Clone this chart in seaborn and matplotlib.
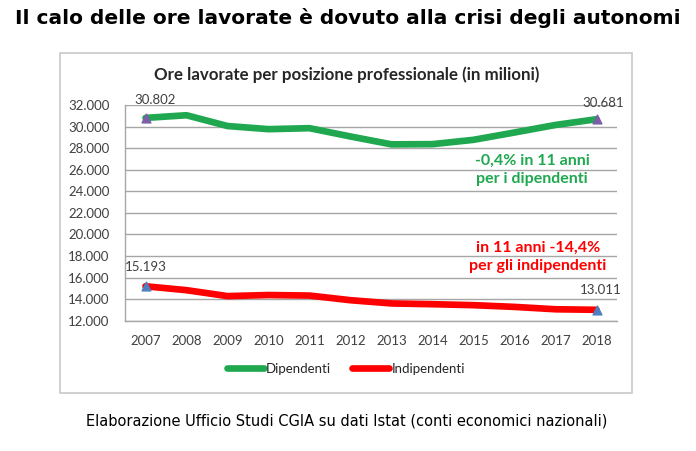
import pandas as pd
import numpy as np
import matplotlib
matplotlib.use("Agg")
import matplotlib.pyplot as plt
import seaborn as sns
from matplotlib.patches import Rectangle
from matplotlib.ticker import FuncFormatter, FixedLocator

# ===============================
# DATA (millions of hours worked)
# ===============================
years = ["2007", "2008", "2009", "2010", "2011", "2012",
         "2013", "2014", "2015", "2016", "2017", "2018"]
dipendenti = [30802, 31050, 30050, 29760, 29850, 29080,
              28350, 28370, 28770, 29450, 30150, 30681]
indipendenti = [15193, 14830, 14280, 14380, 14330, 13900,
                13600, 13530, 13440, 13280, 13060, 13011]
series_names = ["Dipendenti", "Indipendenti"]
y_ticks = [12000, 14000, 16000, 18000, 20000, 22000,
           24000, 26000, 28000, 30000, 32000]

df = pd.DataFrame({
    "anno": years * 2,
    "ore": dipendenti + indipendenti,
    "posizione": [series_names[0]] * len(years) + [series_names[1]] * len(years),
})

GREEN = "#1fa84f"
RED = "#ff0000"
GRID = "#a6a6a6"
TXT = "#404040"


def it_num(v):
    return f"{int(v):,}".replace(",", ".")


sns.set_style("white")
plt.rcParams["font.family"] = ["Lato", "DejaVu Sans"]

fig = plt.figure(figsize=(6.96, 4.51), dpi=100)
ax = fig.add_axes([125 / 696, 1 - 320.7 / 451, 492 / 696, (320.7 - 105) / 451])

# inner chart frame
fig.patches.append(Rectangle((60 / 696, 1 - 393 / 451), 572 / 696, 340 / 451,
                             transform=fig.transFigure, fill=False,
                             edgecolor="#c8c8c8", linewidth=1.2))

sns.lineplot(data=df, x="anno", y="ore", hue="posizione",
             palette=[GREEN, RED], linewidth=4.8, ax=ax, sort=False,
             solid_capstyle="round", zorder=3)

# end markers
ax.scatter([years[0], years[-1]], [dipendenti[0], dipendenti[-1]],
           marker="^", s=40, color="#7a5fa8", zorder=4)
ax.scatter([years[0], years[-1]], [indipendenti[0], indipendenti[-1]],
           marker="^", s=40, color="#4f7fbf", zorder=4)

# axes styling
ax.set_xlim(-0.5, len(years) - 0.5)
ax.set_ylim(y_ticks[0], y_ticks[-1])
ax.set_yticks(y_ticks)
ax.yaxis.set_major_formatter(FuncFormatter(lambda v, p: it_num(v)))
ax.grid(axis="y", color=GRID, linewidth=1)
ax.set_axisbelow(True)
for s in ["top", "right"]:
    ax.spines[s].set_visible(False)
for s in ["left", "bottom"]:
    ax.spines[s].set_color(GRID)
    ax.spines[s].set_linewidth(1)
ax.tick_params(axis="y", length=5, color=GRID, labelsize=9.5, labelcolor=TXT, pad=6)
ax.tick_params(axis="x", which="major", length=0, labelsize=9.5, labelcolor=TXT, pad=10)
ax.xaxis.set_minor_locator(FixedLocator(np.arange(-0.5, len(years), 1.0)))
ax.tick_params(axis="x", which="minor", length=5, color=GRID)
ax.set_xlabel("")
ax.set_ylabel("")

# data labels
lab = dict(fontsize=9.5, color=TXT, ha="center", va="center")
ax.annotate(it_num(dipendenti[0]), (0, dipendenti[0]),
            xytext=(7, 13), textcoords="offset points", **lab)
ax.annotate(it_num(dipendenti[-1]), (11, dipendenti[-1]),
            xytext=(5, 12), textcoords="offset points", **lab)
ax.annotate(it_num(indipendenti[0]), (0, indipendenti[0]),
            xytext=(0, 14), textcoords="offset points", **lab)
ax.annotate(it_num(indipendenti[-1]), (11, indipendenti[-1]),
            xytext=(3, 14), textcoords="offset points", **lab)

# comment boxes
ax.text(532 / 696, 1 - 170 / 451, "-0,4% in 11 anni\nper i dipendenti",
        transform=fig.transFigure, ha="center", va="center", color=GREEN,
        fontsize=11.5, fontweight="bold", linespacing=1.45)
ax.text(538 / 696, 1 - 257 / 451, "in 11 anni -14,4%\nper gli indipendenti",
        transform=fig.transFigure, ha="center", va="center", color=RED,
        fontsize=11.5, fontweight="bold", linespacing=1.45)

# legend
handles, labels = ax.get_legend_handles_labels()
ax.legend(handles, labels, loc="center", bbox_to_anchor=(346 / 696, 1 - 369 / 451),
          bbox_transform=fig.transFigure, ncol=2, frameon=False, fontsize=9.5,
          handlelength=2.8, handletextpad=0.15, columnspacing=1.6)

# titles
fig.text(347 / 696, 1 - 75 / 451, "Ore lavorate per posizione professionale (in milioni)",
         ha="center", va="center", fontsize=12.2, fontweight="bold", color="#262626")
fig.text(348 / 696, 1 - 18 / 451, "Il calo delle ore lavorate è dovuto alla crisi degli autonomi",
         ha="center", va="center", fontsize=14.5, fontweight="bold", color="black",
         family="DejaVu Sans")
fig.text(347 / 696, 1 - 421 / 451,
         "Elaborazione Ufficio Studi CGIA su dati Istat (conti economici nazionali)",
         ha="center", va="center", fontsize=10.5, color="black", family="DejaVu Sans")

fig.savefig("out.png", dpi=100, facecolor="white")
